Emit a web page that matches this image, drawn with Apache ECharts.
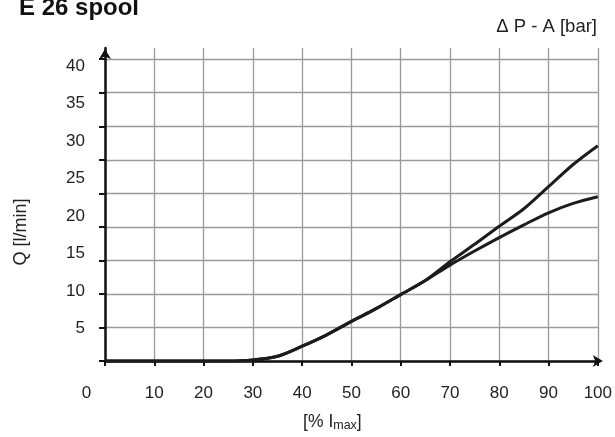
<!DOCTYPE html>
<html>
<head>
<meta charset="utf-8">
<script src="https://cdn.jsdelivr.net/npm/echarts@6/dist/echarts.min.js"></script>
<style>html,body{margin:0;padding:0;background:#fff}#c{width:615px;height:437px}</style>
</head>
<body>
<div id="c"></div>
<script>
var xValues = [0,5,10,15,20,25,30,35,40,45,50,55,60,65,70,75,80,85,90,95,100];
var upperQ  = [0,0,0,0,0,0,0.15,0.7,2.2,3.9,5.9,7.8,9.9,12.0,14.8,17.4,20.1,22.7,26.0,29.3,32.1];
var lowerQ  = [0,0,0,0,0,0,0.15,0.7,2.2,3.9,5.9,7.8,9.9,12.0,14.3,16.4,18.4,20.3,22.1,23.5,24.5];
var xTicks = [0,10,20,30,40,50,60,70,80,90,100];
var yGridTicks = [0,5,10,15,20,25,30,35,40,45];
var yTickLabels = [5,10,15,20,25,30,35,40];

var font = 'Liberation Sans, Arial, sans-serif';
var txt = '#222';
var chart = echarts.init(document.getElementById('c'));
function pairs(vals){ return xValues.map(function(x,i){ return [x, vals[i]]; }); }
chart.setOption({
  animation: false,
  title: [
    {text: 'E 26 spool', left: 14, top: -9, textStyle: {fontFamily: font, fontSize: 24, fontWeight: 'bold', color: '#111'}},
    {text: 'Δ P - A [bar]', right: 13, top: 12, textStyle: {fontFamily: font, fontSize: 18.5, fontWeight: 'normal', color: txt}}
  ],
  grid: {left: 105, right: 10.5, top: 48, bottom: 72},
  xAxis: {
    type: 'value', min: 0, max: 100, interval: 10,
    name: '{a|[% I}{b|max}{a|]}', nameLocation: 'middle', nameGap: 52,
    nameTextStyle: {padding: [0, 38, 0, 0], rich: {
      a: {fontFamily: font, fontSize: 17.5, color: txt},
      b: {fontFamily: font, fontSize: 12.5, color: txt, verticalAlign: 'bottom', padding: [6,0,0,0]}
    }},
    axisLine: {lineStyle: {color: '#111', width: 2.5}, symbol: ['none', 'arrow'], symbolSize: [9, 10], symbolOffset: [0, 5]},
    axisTick: {show: true, length: 5, lineStyle: {color: '#111', width: 2}, customValues: xTicks},
    axisLabel: {margin: 24, fontFamily: font, fontSize: 17, color: txt, customValues: xTicks,
      formatter: function(v){ return v === 0 ? '{z|0}' : String(v); },
      rich: {z: {fontFamily: font, fontSize: 17, color: txt, padding: [0, 37, 0, 0]}}},
    splitLine: {show: true, lineStyle: {color: '#9a9a9a', width: 1.3}}
  },
  yAxis: [
    {
      type: 'value', min: 0, max: 46.67, position: 'left',
      name: 'Q [l/min]', nameLocation: 'middle', nameGap: 75,
      nameTextStyle: {fontFamily: font, fontSize: 18, color: txt, padding: [0, 55, 0, 0]},
      axisLine: {show: true, lineStyle: {color: '#111', width: 2.5}, symbol: ['none', 'arrow'], symbolSize: [9, 10], symbolOffset: [0, -1]},
      axisTick: {show: true, length: 6, lineStyle: {color: '#111', width: 2}, customValues: yGridTicks},
      axisLabel: {show: false},
      splitLine: {show: true, lineStyle: {color: '#9a9a9a', width: 1.3}}
    },
    {
      type: 'value', min: 0.66, max: 42.41, position: 'left',
      axisLine: {show: false}, axisTick: {show: false}, splitLine: {show: false},
      axisLabel: {show: true, margin: 20, fontFamily: font, fontSize: 17, color: txt, customValues: yTickLabels}
    }
  ],
  series: [
    {type: 'line', data: pairs(upperQ), smooth: 0.3, showSymbol: false, lineStyle: {color: '#1c1c1c', width: 3}},
    {type: 'line', data: pairs(lowerQ), smooth: 0.3, showSymbol: false, lineStyle: {color: '#1c1c1c', width: 3}}
  ]
});
</script>
</body>
</html>
